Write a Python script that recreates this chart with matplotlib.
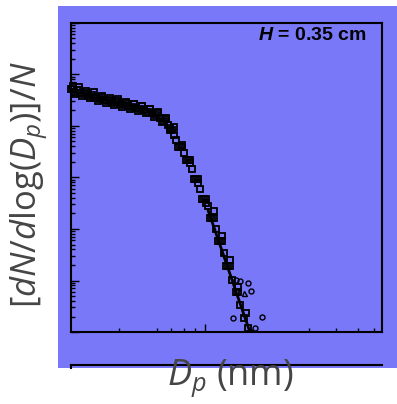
import matplotlib
matplotlib.use('Agg')
import matplotlib.pyplot as plt
from matplotlib.patches import Rectangle
from matplotlib.ticker import FixedLocator, LogLocator, NullFormatter

# particle size distribution, main run (open squares)
dp_a = [1.37, 1.43, 1.49, 1.56, 1.66, 1.76, 1.87, 1.98, 2.10, 2.23, 2.37, 2.51,
        2.67, 2.83, 3.00, 3.19, 3.38, 3.59, 3.81, 4.04, 4.29, 4.55, 4.83, 5.13,
        5.44, 5.77, 6.13, 6.50, 6.90, 7.32, 7.77, 8.24, 8.75, 9.29, 9.85, 10.46,
        11.1, 11.8, 12.5, 13.3, 14.1, 14.9, 15.8, 16.8, 17.9, 18.9]
n_a = [0.0523, 0.0457, 0.0500, 0.0437, 0.0418, 0.0383, 0.0400, 0.0350, 0.0334,
       0.0320, 0.0306, 0.0280, 0.0292, 0.0267, 0.0256, 0.0245, 0.0234, 0.0224,
       0.0214, 0.0205, 0.0187, 0.0179, 0.0164, 0.0143, 0.0125, 0.0105, 0.00836,
       0.00535, 0.00390, 0.00299, 0.00219, 0.00146, 9.35e-4, 5.98e-4, 3.83e-4,
       2.80e-4, 1.64e-4, 1.00e-4, 5.85e-5, 3.42e-5, 1.91e-5, 1.02e-5, 5.98e-6,
       3.34e-6, 1.87e-6, 1.20e-6]

# second run (open squares)
dp_b = [1.41, 1.54, 1.71, 1.92, 2.17, 2.44, 2.75, 3.09, 3.48, 3.92, 4.42, 4.98,
        5.60, 6.31, 7.11, 8.00, 9.01, 10.15, 11.4, 12.9, 14.5, 16.3, 18.4]
n_b = [0.0572, 0.0500, 0.0437, 0.0366, 0.0366, 0.0320, 0.0306, 0.0280, 0.0267,
       0.0245, 0.0214, 0.0179, 0.0137, 0.00957, 0.00428, 0.00191, 7.82e-4,
       3.20e-4, 2.24e-4, 7.31e-5, 2.50e-5, 7.48e-6, 2.34e-6]

# third and fourth runs (open squares)
dp_d = [1.40, 1.53, 1.71, 1.93, 2.16, 2.44, 2.75, 3.09, 3.48, 3.92, 4.42, 4.97,
        5.60, 5.95, 6.70, 7.54, 8.49, 9.55, 10.8, 12.1, 13.7]
n_d = [0.0600, 0.0572, 0.0478, 0.0458, 0.0382, 0.0350, 0.0334, 0.0293, 0.0268,
       0.0245, 0.0214, 0.0188, 0.0143, 0.00836, 0.00390, 0.00219, 9.35e-4,
       3.83e-4, 1.64e-4, 5.85e-5, 1.91e-5]
dp_e = [1.45, 1.62, 1.82, 2.04, 2.30, 2.59, 2.91, 3.28, 3.70, 4.16, 4.68, 5.28,
        5.94, 6.32, 7.11, 8.00, 9.01, 10.15, 11.4, 12.9, 14.5, 16.3]
n_e = [0.0410, 0.0380, 0.0345, 0.0300, 0.0275, 0.0250, 0.0232, 0.0210, 0.0192,
       0.0175, 0.0152, 0.0121, 0.0090, 0.0068, 0.00390, 0.00219, 9.35e-4,
       3.83e-4, 1.64e-4, 5.85e-5, 1.91e-5, 5.98e-6]

# scattered points in the tail (open circles / triangle)
dp_c = [15.9, 16.8, 18.9, 19.8, 15.2, 23.3, 21.0, 19.8]
n_c = [1.02e-5, 9.8e-6, 8.9e-6, 6.3e-6, 1.87e-6, 1.95e-6, 1.20e-6, 1.0e-6]
dp_tri = [17.9]
n_tri = [5.7e-6]

# power-law fit in the tail
fit_dp = [10.46, 19.8]
fit_n = [2.34e-4, 8.7e-7]

blue = '#7878f8'

plt.rcParams['mathtext.fontset'] = 'custom'
plt.rcParams['mathtext.rm'] = 'Open Sans'
plt.rcParams['mathtext.it'] = 'Open Sans:italic'
plt.rcParams['mathtext.bf'] = 'Liberation Sans:bold:italic'

fig = plt.figure(figsize=(3.97, 4.04), dpi=100)
fig.patches.append(Rectangle((0.1461, 0.0891), 0.8539, 0.896, transform=fig.transFigure,
                             facecolor=blue, edgecolor='none', zorder=-5))

ax = fig.add_axes([0.1788, 0.1782, 0.7834, 0.7649])
ax.set_facecolor(blue)
ax.set_xscale('log')
ax.set_yscale('log')
ax.set_xlim(1.366, 138.7)
ax.set_ylim(1e-6, 1)

for xs, ys in [(dp_a, n_a), (dp_b, n_b), (dp_d, n_d), (dp_e, n_e)]:
    ax.plot(xs, ys, 's', ms=3.8, mfc='none', mec='black', mew=1.3, clip_on=False)
ax.plot(dp_c, n_c, 'o', ms=3.6, mfc='none', mec='black', mew=1.0)
ax.plot(dp_tri, n_tri, '^', ms=3.6, mfc='none', mec='black', mew=1.0)
ax.plot(fit_dp, fit_n, '-', color='black', lw=2.0)

for s in ax.spines.values():
    s.set_linewidth(1.5)
    s.set_color('black')

ax.xaxis.set_major_locator(FixedLocator([10]))
ax.xaxis.set_minor_locator(FixedLocator([2.79, 4.9, 6.04, 7.32, 8.6, 46.9, 70, 97, 123]))
ax.yaxis.set_major_locator(LogLocator(base=10, numticks=10))
ax.yaxis.set_minor_locator(LogLocator(base=10, subs=range(2, 10), numticks=20))
for axis in (ax.xaxis, ax.yaxis):
    axis.set_major_formatter(NullFormatter())
    axis.set_minor_formatter(NullFormatter())
ax.tick_params(which='both', direction='in', top=False, right=False, color='black', width=1.0)
ax.tick_params(which='major', length=6)
ax.tick_params(which='minor', length=3)

ax.text(0.952, 0.958, r'$\mathbf{H}$ = 0.35 cm', transform=ax.transAxes,
        ha='right', va='center', fontsize=14, fontweight='bold', family='Liberation Sans')

# second panel, cut off at the bottom of the figure
ax2 = fig.add_axes([0.1788, 0.0891, 0.7834, 0.0074])
ax2.set_facecolor(blue)
ax2.spines['bottom'].set_visible(False)
ax2.spines['right'].set_visible(False)
ax2.spines['top'].set_linewidth(1.5)
ax2.spines['left'].set_linewidth(1.5)
ax2.set_xticks([])
ax2.set_yticks([])

fig.text(0.580, 0.064, r'$D_p$ (nm)', ha='center', va='center', fontsize=26,
         color='#454545', family='Open Sans')
fig.text(0.0756, 0.542, r'[$dN$/$d$log($D_p$)]/$N$', ha='center', va='center',
         fontsize=25, color='#454545', family='Open Sans', rotation=90)

fig.savefig('out.png', dpi=100)
